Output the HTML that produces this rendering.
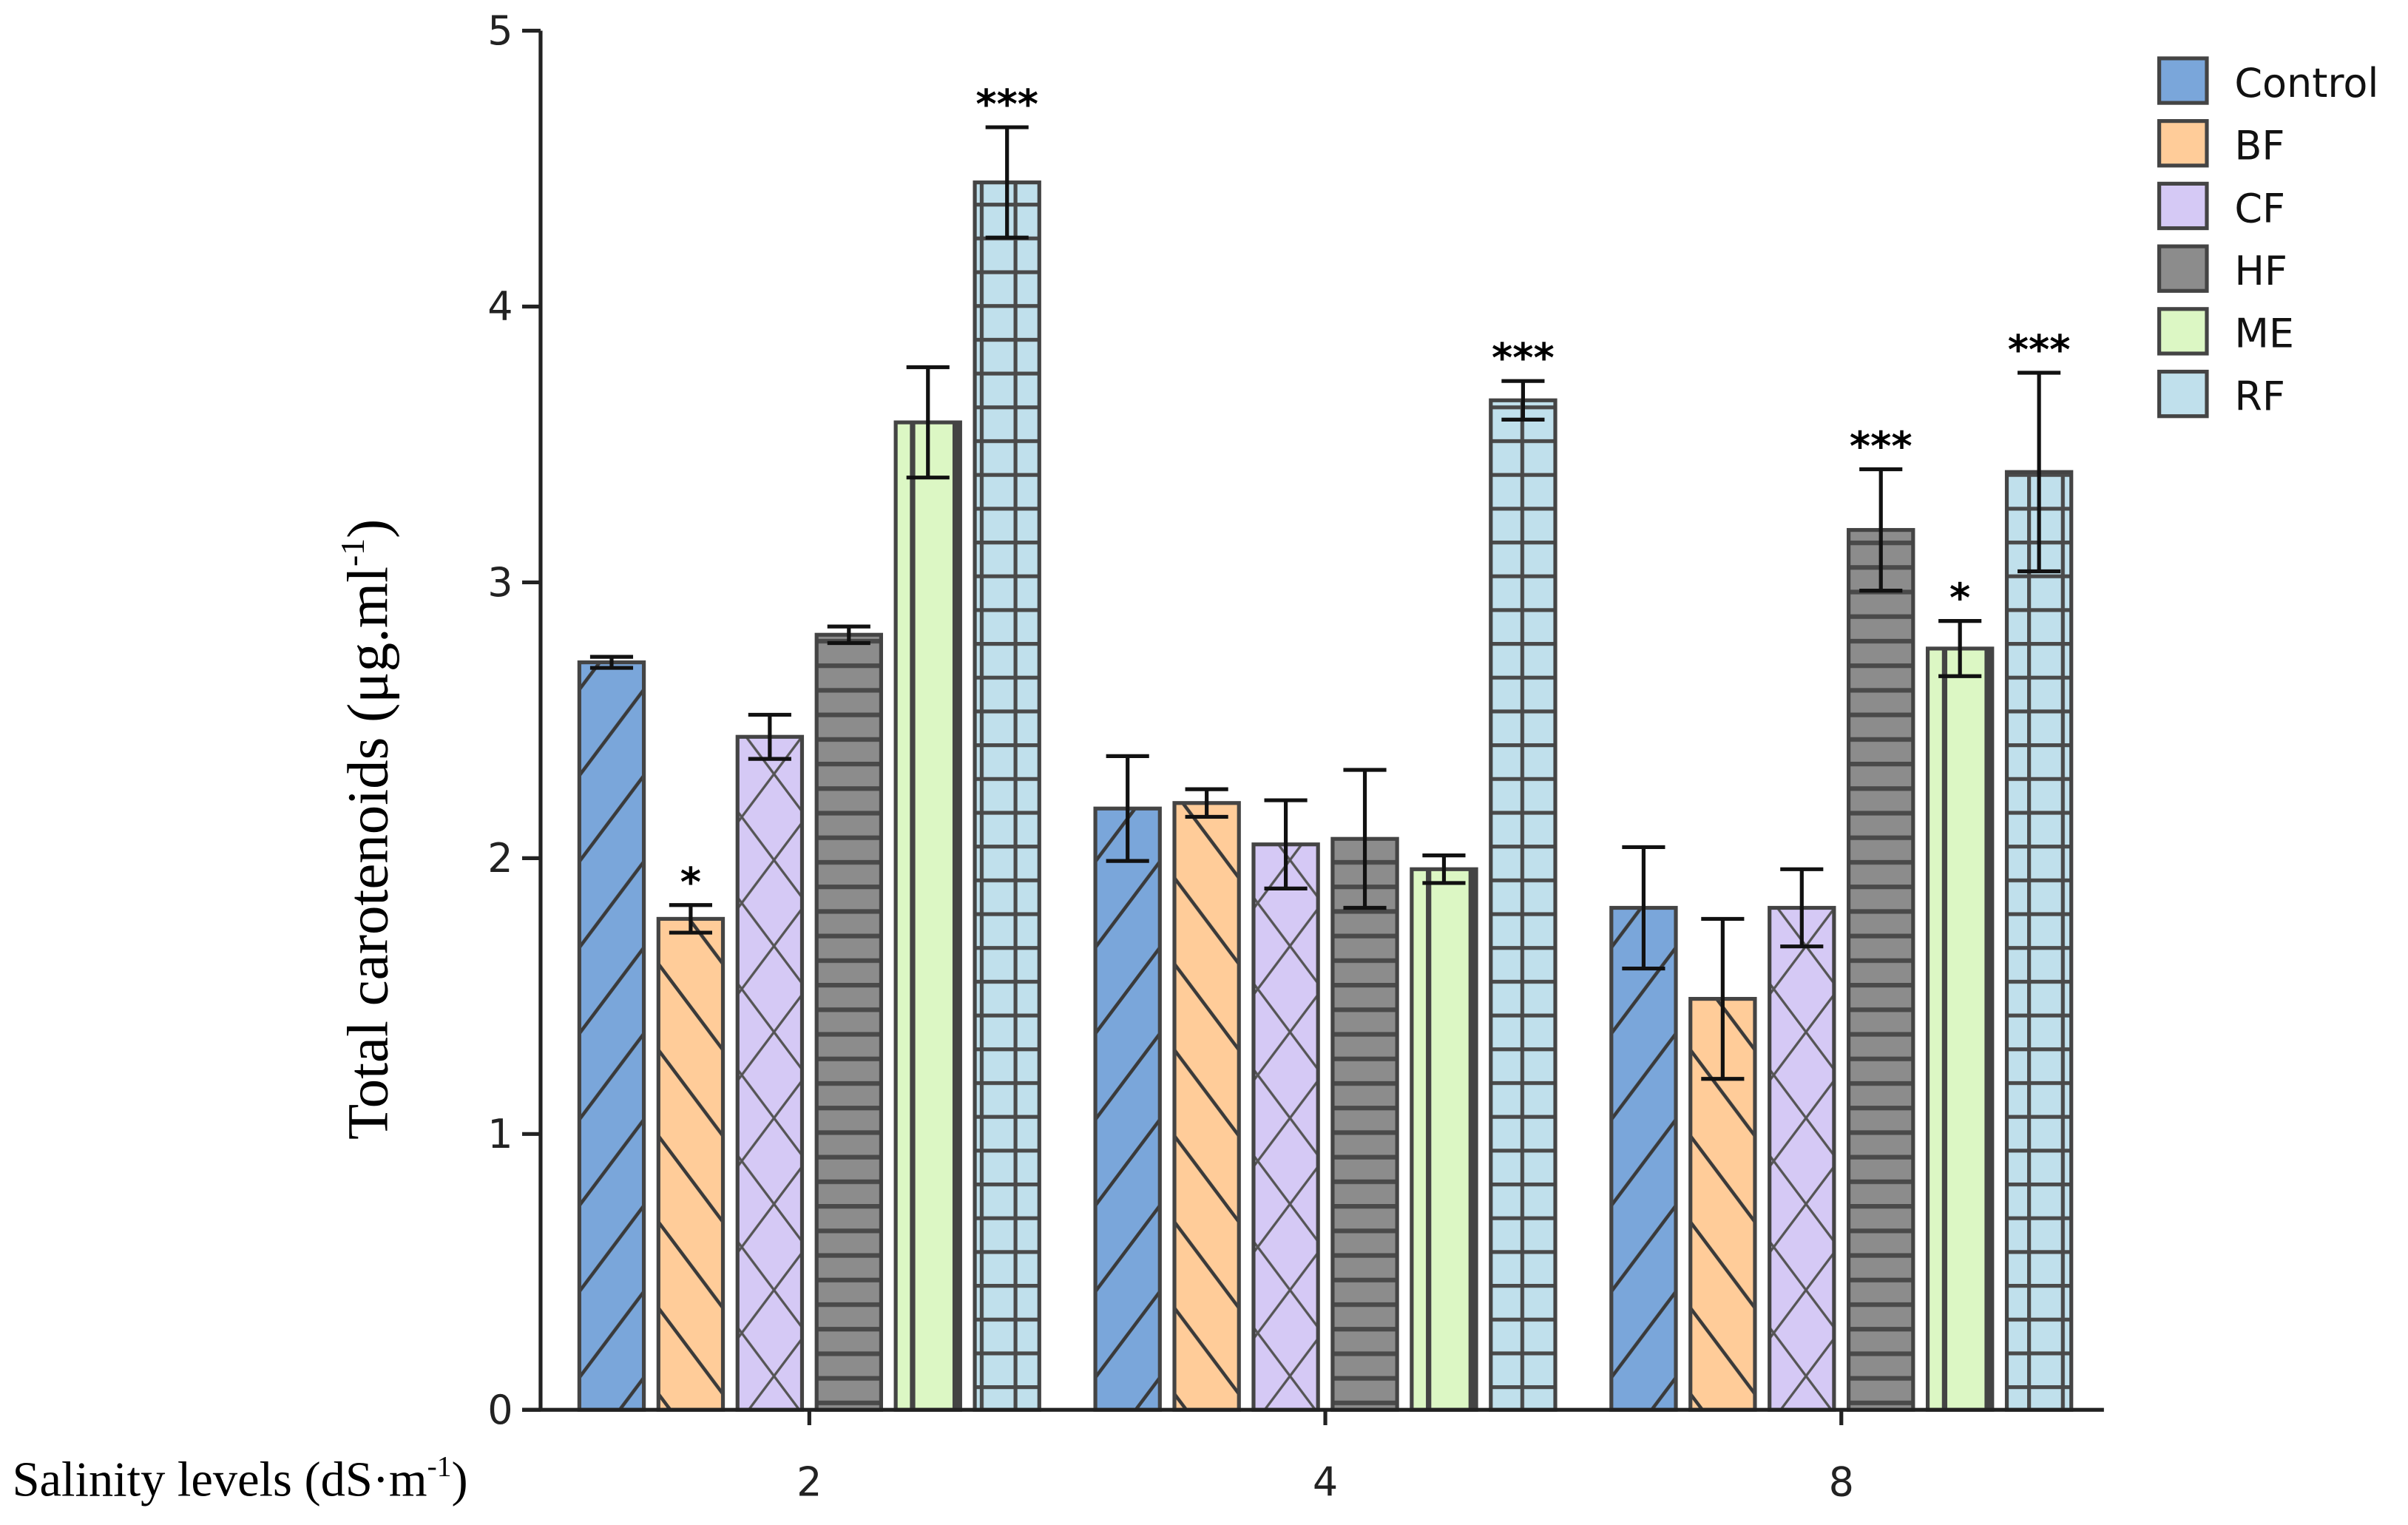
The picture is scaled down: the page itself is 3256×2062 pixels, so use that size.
<!DOCTYPE html>
<html><head><meta charset="utf-8"><style>
html,body{margin:0;padding:0;background:#fff;}
svg{display:block;}
</style></head><body>
<svg id="chart" width="3256" height="2062" viewBox="0 0 1568 993" preserveAspectRatio="none" xmlns="http://www.w3.org/2000/svg">
<defs>
<pattern id="p-control" patternUnits="userSpaceOnUse" width="42" height="56">
  <rect width="42" height="56" fill="#7aa6da"/>
  <line x1="-42" y1="56" x2="42" y2="-56" stroke="#3a3a3a" stroke-width="2.2"/>
  <line x1="0" y1="56" x2="42" y2="0" stroke="#3a3a3a" stroke-width="2.2"/>
  <line x1="0" y1="112" x2="84" y2="0" stroke="#3a3a3a" stroke-width="2.2"/>
</pattern>
<pattern id="p-bf" patternUnits="userSpaceOnUse" width="42" height="56">
  <rect width="42" height="56" fill="#ffcc99"/>
  <line x1="0" y1="0" x2="42" y2="56" stroke="#3a3a3a" stroke-width="2.2"/>
  <line x1="-42" y1="0" x2="42" y2="112" stroke="#3a3a3a" stroke-width="2.2"/>
  <line x1="0" y1="-56" x2="84" y2="56" stroke="#3a3a3a" stroke-width="2.2"/>
</pattern>
<pattern id="p-cf" patternUnits="userSpaceOnUse" width="42" height="56">
  <rect width="42" height="56" fill="#d5c9f5"/>
  <line x1="0" y1="0" x2="42" y2="56" stroke="#555" stroke-width="1.6"/>
  <line x1="0" y1="56" x2="42" y2="0" stroke="#555" stroke-width="1.6"/>
</pattern>
<pattern id="p-hf" patternUnits="userSpaceOnUse" width="42" height="16">
  <rect width="42" height="16" fill="#8c8c8c"/>
  <rect y="0" width="42" height="3" fill="#4a4a4a"/>
</pattern>
<pattern id="p-me" patternUnits="userSpaceOnUse" width="42" height="20">
  <rect width="42" height="20" fill="#dcf7c4"/>
</pattern>
<pattern id="p-rf" patternUnits="userSpaceOnUse" width="22" height="22">
  <rect width="22" height="22" fill="#c0e0ec"/>
  <rect x="0" y="0" width="22" height="2.5" fill="#4a4a4a"/>
  <rect x="0" y="0" width="2.5" height="22" fill="#4a4a4a"/>
</pattern>
</defs>
<g id="bars"></g>
<g id="axes"></g>
<g id="legend"></g>
<text transform="translate(252,540) rotate(-90)" text-anchor="middle" font-family="Liberation Serif, serif" font-size="38" fill="#000">Total carotenoids (μg.ml<tspan dy="-15" font-size="22">-1</tspan><tspan dy="15">)</tspan></text>
<text x="8" y="974" font-family="Liberation Serif, serif" font-size="32" fill="#000">Salinity levels (dS·m<tspan dy="-13" font-size="19">-1</tspan><tspan dy="13">)</tspan></text>
</svg>
<script>
const groups = ["2", "4", "8"];
const seriesNames = ["Control", "BF", "CF", "HF", "ME", "RF"];
const control = [2.71, 2.18, 1.82];
const bf = [1.78, 2.20, 1.49];
const cf = [2.44, 2.05, 1.82];
const hf = [2.81, 2.07, 3.19];
const me = [3.58, 1.96, 2.76];
const rf = [4.45, 3.66, 3.40];
const controlErr = [0.02, 0.19, 0.22];
const bfErr = [0.05, 0.05, 0.29];
const cfErr = [0.08, 0.16, 0.14];
const hfErr = [0.03, 0.25, 0.22];
const meErr = [0.20, 0.05, 0.10];
const rfErr = [0.20, 0.07, 0.36];
const controlSig = ["", "", ""];
const bfSig = ["*", "", ""];
const cfSig = ["", "", ""];
const hfSig = ["", "", "***"];
const meSig = ["", "", "*"];
const rfSig = ["***", "***", "***"];
const yTicks = [0, 1, 2, 3, 4, 5];

const NS = "http://www.w3.org/2000/svg";
const values = [control, bf, cf, hf, me, rf];
const errs = [controlErr, bfErr, cfErr, hfErr, meErr, rfErr];
const sigs = [controlSig, bfSig, cfSig, hfSig, meSig, rfSig];
const fills = ["url(#p-control)", "url(#p-bf)", "url(#p-cf)", "url(#p-hf)", "url(#p-me)", "url(#p-rf)"];
const swatchColors = ["#7aa6da", "#ffcc99", "#d5c9f5", "#8c8c8c", "#dcf7c4", "#c0e0ec"];
const yMin = 0, yMax = 5, pyTop = 20, pyBot = 918;
function y(v) { return pyBot - (v - yMin) / (yMax - yMin) * (pyBot - pyTop); }
const groupCenter0 = 527, groupStep = 336, barStep = 51.5, barW = 42;
function xBar(g, s) { return groupCenter0 + g * groupStep + (s - 2.5) * barStep - barW / 2; }
function mk(tag, attrs, parent) {
  const el = document.createElementNS(NS, tag);
  for (const k in attrs) el.setAttribute(k, attrs[k]);
  parent.appendChild(el);
  return el;
}
const barsG = document.getElementById("bars");
for (let g = 0; g < groups.length; g++) {
  for (let s = 0; s < seriesNames.length; s++) {
    const v = values[s][g], x0 = xBar(g, s);
    const r = mk("rect", {x: x0, y: y(v), width: barW, height: y(0) - y(v), fill: fills[s], stroke: "#444", "stroke-width": 2.5}, barsG);
    
    
    if (s === 4) {
      const ml = mk("line", {x1: x0 + 11, x2: x0 + 11, y1: y(v), y2: y(0), stroke: "#444", "stroke-width": 3.5}, barsG);
      
      
      const ml2 = mk("line", {x1: x0 + barW - 3, x2: x0 + barW - 3, y1: y(v), y2: y(0), stroke: "#444", "stroke-width": 4}, barsG);
      
      
    }
    const cx = x0 + barW / 2, e = errs[s][g];
    const eg = mk("g", {stroke: "#111", "stroke-width": 2.5}, barsG);
    
    
    mk("line", {x1: cx, x2: cx, y1: y(v + e), y2: y(v - e)}, eg);
    mk("line", {x1: cx - 14, x2: cx + 14, y1: y(v + e), y2: y(v + e)}, eg);
    mk("line", {x1: cx - 14, x2: cx + 14, y1: y(v - e), y2: y(v - e)}, eg);
    if (sigs[s][g]) {
      const t = mk("text", {x: cx, y: y(v + e) - 6, "text-anchor": "middle", "font-family": "DejaVu Sans, sans-serif", "font-size": 26, "font-weight": "bold", fill: "#000"}, barsG);
      t.textContent = sigs[s][g];
      
      
    }
  }
}
const axesG = document.getElementById("axes");
const ya = mk("line", {x1: 352, x2: 352, y1: pyTop, y2: pyBot, stroke: "#222", "stroke-width": 2.5}, axesG);


const xa = mk("line", {x1: 340, x2: 1370, y1: pyBot, y2: pyBot, stroke: "#222", "stroke-width": 2.5}, axesG);


for (const t of yTicks) {
  const tl = mk("line", {x1: 340, x2: 352, y1: y(t), y2: y(t), stroke: "#222", "stroke-width": 2.5}, axesG);
  
  
  const tx = mk("text", {x: 334, y: y(t) + 9, "text-anchor": "end", "font-family": "DejaVu Sans, sans-serif", "font-size": 26, fill: "#222"}, axesG);
  tx.textContent = t;
  
  
}
for (let g = 0; g < groups.length; g++) {
  const cx = groupCenter0 + g * groupStep;
  const tl = mk("line", {x1: cx, x2: cx, y1: pyBot, y2: pyBot + 10, stroke: "#222", "stroke-width": 2.5}, axesG);
  
  
  const tx = mk("text", {x: cx, y: 974, "text-anchor": "middle", "font-family": "DejaVu Sans, sans-serif", "font-size": 26, fill: "#222"}, axesG);
  tx.textContent = groups[g];
  
  
}
const legG = document.getElementById("legend");
for (let s = 0; s < seriesNames.length; s++) {
  const ly = 38 + s * 40.8;
  const e = mk("g", {}, legG);
  
  
  mk("rect", {x: 1406, y: ly, width: 31, height: 29, fill: swatchColors[s], stroke: "#444", "stroke-width": 2.5}, e);
  const tx = mk("text", {x: 1455, y: ly + 25, "font-family": "DejaVu Sans, sans-serif", "font-size": 26, fill: "#111"}, e);
  tx.textContent = seriesNames[s];
}
</script>
</body></html>
